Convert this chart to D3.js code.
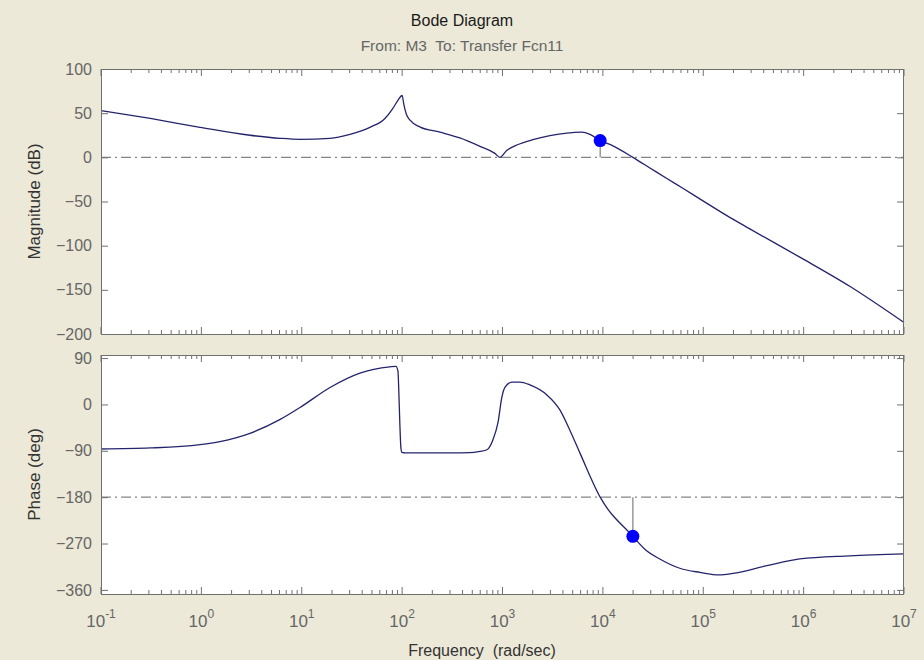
<!DOCTYPE html>
<html>
<head>
<meta charset="utf-8">
<script src="https://cdn.jsdelivr.net/npm/d3@7"></script>
<style>
  body { margin: 0; background: #ECE9D8; }
  svg { display: block; }
  text { font-family: "Liberation Sans", Arial, sans-serif; white-space: pre; }
</style>
</head>
<body>
<svg id="chart" width="924" height="660"></svg>
<script>
// Magnitude response (rad/sec, dB)
const magFreq = [0.1, 0.31, 0.97, 3.05, 6.1, 9.6, 19.1, 30.2, 47.8, 67.4, 80.9, 90.8, 100,
  104, 110, 120, 150, 238, 376, 596, 840, 942, 1107, 1390, 2008, 2966, 4375, 6180, 7430, 9400,
  12600, 19900, 29400, 43400, 62600, 92400, 172000, 291000, 916000, 2.88e6, 1e7];
const magDb = [53, 44, 34, 25, 21.5, 20.4, 21.5, 26, 34, 44, 55.5, 64.5, 70,
  60, 49, 42, 34.5, 28.5, 22, 12.5, 4.5, 0, 8, 14, 20, 24.5, 27.5, 28.5, 26, 19,
  13, 0, -12, -24, -35, -47, -66, -81, -113, -146, -187];

// Phase response (rad/sec, deg)
const phaseFreq = [0.1, 0.31, 0.97, 1.53, 3.05, 6.1, 9.6, 19.1, 38, 75.5, 86.7, 90.8, 92.9,
  95, 97.3, 99.5, 107, 299, 473, 596, 700, 802, 900, 986, 1057, 1242, 1490, 1875, 2770,
  3730, 4690, 5900, 9400, 19900, 26200, 36900, 58400, 92400, 146000, 197000, 430000,
  916000, 2.88e6, 1e7];
const phaseDeg = [-86.5, -84.5, -78, -72, -56, -29, -6, 33, 61, 73, 74, 65, 20,
  -40, -85, -93, -94, -94, -93.5, -91, -88, -69, -36, 14, 33, 43.5, 43.5, 38, 18.5,
  -10.5, -50, -94, -180, -256, -281, -300, -318, -326, -331, -328, -313,
  -300, -294, -290];

// Stability margins: gain margin at phase crossover, phase margin at gain crossover
const gainMarginFreq = 9400, gainMarginMag = 19;
const phaseMarginFreq = 19900, phaseMarginDeg = -256;

const decadeExponents = [-1, 0, 1, 2, 3, 4, 5, 6, 7];
const magTicks = [100, 50, 0, -50, -100, -150, -200];
const phaseTicks = [90, 0, -90, -180, -270, -360];

const svg = d3.select("#chart");
const W = 924, H = 660;
const left = 101, right = 904;
const magTop = 69, magBottom = 334;
const phTop = 355, phBottom = 594;

const axisColor = "#707070";
const labelColor = "#666666";
const lineColor = "#24246c";

svg.append("rect").attr("width", W).attr("height", H).attr("fill", "#ECE9D8");

const x = d3.scaleLog().domain([0.1, 1e7]).range([left, right]);
const yMag = d3.scaleLinear().domain([-200, 100]).range([magBottom, magTop]);
const yPh = d3.scaleLinear().domain([-368, 96]).range([phBottom, phTop]);

// Every tick value on the log axis: decades plus 2..9 in between
const xTickValues = [];
decadeExponents.forEach((e, i) => {
  const base = Math.pow(10, e);
  xTickValues.push(base);
  if (i < decadeExponents.length - 1) {
    for (let k = 2; k <= 9; k++) xTickValues.push(k * base);
  }
});
const isMajor = v => Math.abs(Math.log10(v) - Math.round(Math.log10(v))) < 1e-9;

function drawPanel(y, top, bottom, ticks, freq, vals, refValue) {
  const g = svg.append("g");
  g.append("rect").attr("x", left).attr("y", top)
    .attr("width", right - left).attr("height", bottom - top)
    .attr("fill", "#ffffff");

  // reference line (dash-dot)
  g.append("line")
    .attr("x1", left).attr("x2", right)
    .attr("y1", y(refValue)).attr("y2", y(refValue))
    .attr("stroke", "#858585").attr("stroke-width", 1.3)
    .attr("stroke-dasharray", "10,4,2,4");

  // response curve
  const pts = freq.map((f, i) => [f, vals[i]]);
  g.append("path")
    .datum(pts)
    .attr("fill", "none")
    .attr("stroke", lineColor)
    .attr("stroke-width", 1.3)
    .attr("d", d3.line().x(d => x(d[0])).y(d => y(d[1])).curve(d3.curveMonotoneX));

  // left axis with labels, ticks pointing inward
  const ax = g.append("g").attr("transform", `translate(${left},0)`)
    .call(d3.axisLeft(y).tickValues(ticks).tickSize(-7).tickPadding(9).tickFormat(d3.format("d")));
  ax.select(".domain").remove();
  ax.selectAll("line").attr("stroke", axisColor);
  ax.selectAll("text").attr("fill", labelColor).attr("font-size", 16)
    .attr("font-family", "Liberation Sans, Arial, sans-serif");

  // right axis ticks
  const axr = g.append("g").attr("transform", `translate(${right},0)`)
    .call(d3.axisRight(y).tickValues(ticks).tickSize(-7).tickFormat(""));
  axr.select(".domain").remove();
  axr.selectAll("line").attr("stroke", axisColor);

  // top and bottom log ticks, inward
  const tickLen = v => isMajor(v) ? 7 : 4;
  g.selectAll(null).data(xTickValues).join("line")
    .attr("x1", d => x(d)).attr("x2", d => x(d))
    .attr("y1", top).attr("y2", d => top + tickLen(d))
    .attr("stroke", axisColor);
  g.selectAll(null).data(xTickValues).join("line")
    .attr("x1", d => x(d)).attr("x2", d => x(d))
    .attr("y1", bottom).attr("y2", d => bottom - tickLen(d))
    .attr("stroke", axisColor);

  // frame
  g.append("rect").attr("x", left + 0.5).attr("y", top + 0.5)
    .attr("width", right - left - 1).attr("height", bottom - top)
    .attr("fill", "none").attr("stroke", axisColor).attr("stroke-width", 1);
  return g;
}

const gMag = drawPanel(yMag, magTop, magBottom, magTicks, magFreq, magDb, 0);
const gPh = drawPanel(yPh, phTop, phBottom, phaseTicks, phaseFreq, phaseDeg, -180);

// gain margin marker
gMag.append("line")
  .attr("x1", x(gainMarginFreq)).attr("x2", x(gainMarginFreq))
  .attr("y1", yMag(0)).attr("y2", yMag(gainMarginMag))
  .attr("stroke", "#808080").attr("stroke-width", 1.2);
gMag.append("circle")
  .attr("cx", x(gainMarginFreq)).attr("cy", yMag(gainMarginMag)).attr("r", 6.5)
  .attr("fill", "#0000ff");

// phase margin marker
gPh.append("line")
  .attr("x1", x(phaseMarginFreq)).attr("x2", x(phaseMarginFreq))
  .attr("y1", yPh(-180)).attr("y2", yPh(phaseMarginDeg))
  .attr("stroke", "#808080").attr("stroke-width", 1.2);
gPh.append("circle")
  .attr("cx", x(phaseMarginFreq)).attr("cy", yPh(phaseMarginDeg)).attr("r", 6.5)
  .attr("fill", "#0000ff");

// decade labels 10^n
const xl = svg.append("g");
decadeExponents.forEach(e => {
  const t = xl.append("text")
    .attr("x", x(Math.pow(10, e)))
    .attr("y", 627)
    .attr("text-anchor", "middle")
    .attr("fill", labelColor)
    .attr("font-size", 17);
  t.append("tspan").text("10");
  t.append("tspan").attr("dy", -9).attr("font-size", 12).text(String(e));
});

// titles and axis labels
svg.append("text").attr("x", 462).attr("y", 26).attr("text-anchor", "middle")
  .attr("font-size", 16).attr("fill", "#1a1a1a").text("Bode Diagram");
svg.append("text").attr("x", 462).attr("y", 51).attr("text-anchor", "middle")
  .attr("font-size", 15.5).attr("fill", "#666666").text("From: M3  To: Transfer Fcn11");
svg.append("text").attr("x", 482).attr("y", 656).attr("text-anchor", "middle")
  .attr("font-size", 16).attr("fill", "#333").text("Frequency  (rad/sec)");
svg.append("text")
  .attr("transform", `translate(40,${(magTop + magBottom) / 2}) rotate(-90)`)
  .attr("text-anchor", "middle").attr("font-size", 17).attr("fill", "#333")
  .text("Magnitude (dB)");
svg.append("text")
  .attr("transform", `translate(40,${(phTop + phBottom) / 2}) rotate(-90)`)
  .attr("text-anchor", "middle").attr("font-size", 17).attr("fill", "#333")
  .text("Phase (deg)");
</script>
</body>
</html>
